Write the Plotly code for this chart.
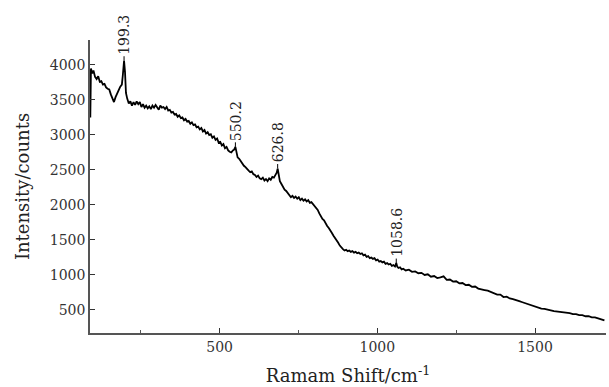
import plotly.graph_objects as go

shift = [90, 92, 96, 100, 105, 110, 115, 120, 125, 130, 135, 140, 145, 150, 155, 160, 165, 170, 175, 180,
         185, 190, 193, 197, 200, 203, 207, 212, 217, 222, 227, 232, 237, 242, 247, 252, 257, 262, 267, 272,
         277, 282, 287, 292, 297, 302, 307, 312, 317, 322, 327, 332, 337, 342, 347, 352, 357, 362, 367, 372,
         377, 382, 387, 392, 397, 402, 407, 412, 417, 422, 427, 432, 437, 442, 447, 452, 457, 462, 467, 472,
         477, 482, 487, 492, 497, 502, 507, 512, 517, 522, 527, 532, 537, 542, 546, 550, 553, 557, 562, 567,
         572, 577, 582, 587, 592, 597, 602, 607, 612, 617, 622, 627, 632, 637, 642, 647, 652, 657, 662, 667,
         672, 677, 681, 684, 687, 691, 696, 701, 706, 711, 716, 721, 726, 731, 736, 741, 746, 751, 756, 761,
         766, 771, 776, 781, 786, 791, 796, 801, 806, 811, 816, 821, 826, 831, 836, 841, 846, 851, 856, 861,
         866, 871, 876, 881, 886, 891, 896, 901, 906, 911, 916, 921, 926, 931, 936, 941, 946, 951, 956, 961,
         966, 971, 976, 981, 986, 991, 996, 1001, 1006, 1011, 1016, 1021, 1026, 1031, 1036, 1041, 1046, 1051,
         1056, 1060, 1063, 1067, 1072, 1077, 1082, 1087, 1090, 1100, 1110, 1120, 1130, 1140, 1150, 1160, 1170,
         1180, 1190, 1200, 1210, 1220, 1230, 1240, 1250, 1260, 1270, 1280, 1290, 1300, 1310, 1320, 1330, 1340,
         1350, 1360, 1370, 1380, 1390, 1400, 1410, 1420, 1430, 1440, 1450, 1460, 1470, 1480, 1490, 1500, 1510,
         1520, 1530, 1540, 1550, 1560, 1570, 1580, 1590, 1600, 1610, 1620, 1630, 1640, 1650, 1660, 1670, 1680,
         1690, 1700, 1710, 1720]

intensity = [3250, 3950, 3880, 3920, 3830, 3800, 3840, 3760, 3770, 3720, 3730, 3680, 3660, 3650, 3580, 3510, 3470, 3540, 3600, 3640,
             3690, 3720, 3850, 4060, 3900, 3600, 3520, 3450, 3480, 3420, 3470, 3430, 3480, 3440, 3470, 3400, 3440, 3390, 3420, 3380,
             3410, 3370, 3420, 3390, 3430, 3400, 3360, 3420, 3390, 3400, 3370, 3400, 3350, 3360, 3320, 3330, 3290, 3300, 3260, 3280,
             3240, 3250, 3210, 3230, 3190, 3200, 3160, 3180, 3140, 3150, 3110, 3120, 3080, 3100, 3050, 3070, 3020, 3040, 3000, 3010,
             2960, 2980, 2930, 2950, 2890, 2900, 2850, 2870, 2810, 2830, 2780, 2760, 2750, 2780, 2790, 2830, 2740, 2680, 2660, 2620,
             2590, 2560, 2540, 2510, 2490, 2470, 2480, 2440, 2430, 2400, 2420, 2380, 2370, 2390, 2350, 2370, 2340, 2380, 2360, 2400,
             2390, 2430, 2460, 2520, 2420, 2340, 2300, 2250, 2220, 2200, 2170, 2150, 2110, 2130, 2100, 2120, 2090, 2110, 2070, 2090,
             2060, 2080, 2050, 2070, 2030, 2040, 2010, 1990, 1960, 1930, 1880, 1830, 1800, 1780, 1730, 1700, 1670, 1640, 1600, 1560,
             1530, 1490, 1460, 1420, 1390, 1370, 1350, 1360, 1340, 1350, 1330, 1340, 1320, 1330, 1310, 1320, 1300, 1310, 1280, 1290,
             1260, 1270, 1240, 1250, 1230, 1240, 1210, 1220, 1190, 1200, 1180, 1190, 1160, 1170, 1150, 1160, 1130, 1140,
             1120, 1170, 1120, 1100, 1110, 1080, 1090, 1070, 1065, 1075, 1045, 1050, 1025, 1030, 1000, 1010, 975,
             985, 955, 965, 980, 930, 935, 905, 910, 880, 885, 855, 860, 830, 835, 805, 800, 785,
             775, 760, 745, 720, 720, 685, 690, 665, 655, 635, 625, 610, 595, 580, 560, 545, 540,
             520, 515, 500, 495, 485, 480, 470, 470, 455, 455, 440, 440, 425, 425, 410, 410, 395,
             395, 380, 370, 350]

peak_labels = ["199.3", "550.2", "626.8", "1058.6"]
peak_x = [197, 550, 684, 1060]
peak_y = [4060, 2830, 2520, 1170]

x_ticks = [500, 1000, 1500]
y_ticks = [500, 1000, 1500, 2000, 2500, 3000, 3500, 4000]

fig = go.Figure()
fig.add_trace(go.Scatter(x=shift, y=intensity, mode="lines",
                         line=dict(color="black", width=1.8), showlegend=False))

for lbl, px, py in zip(peak_labels, peak_x, peak_y):
    text_len = 8.9 * sum(c.isdigit() for c in lbl) + 4.5 * lbl.count(".")
    fig.add_annotation(x=px, y=py, text=lbl, textangle=-90, showarrow=True,
                       arrowhead=0, arrowwidth=1, arrowcolor="black", standoff=0,
                       ax=0, ay=-(6 + text_len / 2),
                       font=dict(family="DejaVu Serif", size=14, color="#222"))

axis_common = dict(showgrid=False, zeroline=False, showline=True, linecolor="#555", linewidth=1.5,
                   ticks="inside", tickcolor="#333", tickwidth=1.2, ticklen=5, automargin=False,
                   tickfont=dict(family="DejaVu Serif", size=14, color="#333"))

fig.update_xaxes(range=[89, 1725], tickvals=x_ticks, ticktext=[str(v) for v in x_ticks],
                 minor=dict(tickvals=[250, 750, 1250], ticks="inside", ticklen=3, tickcolor="#555"),
                 title=dict(text="Ramam Shift/cm<sup>-1</sup>", standoff=16,
                            font=dict(family="DejaVu Serif", size=18, color="#222")),
                 **axis_common)
fig.update_yaxes(range=[171, 4357], tickvals=y_ticks, ticktext=[str(v) for v in y_ticks],
                 title=dict(text="Intensity/counts", standoff=16,
                            font=dict(family="DejaVu Serif", size=18, color="#222")),
                 **axis_common)

fig.update_layout(width=609, height=387, margin=dict(l=90, r=3, t=40, b=54),
                  plot_bgcolor="white", paper_bgcolor="white")

fig.write_html("out.html", config={"displayModeBar": False},
               post_script="document.body.style.margin='0';document.body.style.overflow='hidden';")
